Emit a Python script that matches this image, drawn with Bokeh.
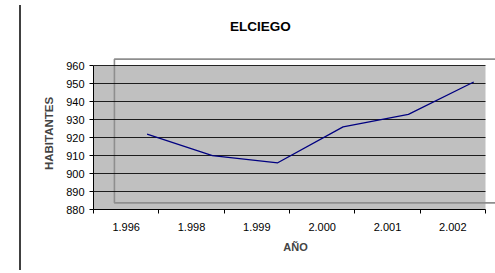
from bokeh.plotting import figure
from bokeh.models import Range1d, FixedTicker, SingleIntervalTicker, Div, Spacer
from bokeh.layouts import row, column
from bokeh.embed import file_html
from bokeh.resources import INLINE

# data
title = "ELCIEGO"
years = ["1.996", "1.998", "1.999", "2.000", "2.001", "2.002"]
habitantes = [922, 910, 906, 926, 933, 951]
y_min, y_max, y_step = 880, 960, 10

# 3-D depth offset of the back wall (category units, value units)
DX, DY = 0.32, 3.7

n = len(years)
centers = [i + 0.5 for i in range(n)]
xs_line = [c + DX for c in centers]

FONT = "Liberation Sans"
BORDER = "#404040"

TITLE_H = 34
p = figure(width=471, height=263 - TITLE_H, output_backend="svg", toolbar_location=None,
           x_range=Range1d(0, n * 404 / 392), y_range=Range1d(y_min, y_min + 152 / 1.796),
           min_border_left=67, min_border_right=0, min_border_top=13, min_border_bottom=64,
           background_fill_color="white", border_fill_color="white",
           outline_line_color=None)

# gray plot area
bg = p.quad(left=[0], right=[n], bottom=[y_min], top=[y_max],
            fill_color="#C0C0C0", line_color=None)
bg.level = "image"
# back wall outline
wall = p.quad(left=[DX], right=[n + 1], bottom=[y_min + DY], top=[y_max + DY],
              fill_color=None, line_color="#8E8E8E", line_width=1.6)
wall.level = "image"

# grid
p.xgrid.visible = False
p.ygrid.ticker = SingleIntervalTicker(interval=y_step)
p.ygrid.grid_line_color = "black"
p.ygrid.grid_line_width = 1
p.ygrid.grid_line_alpha = 0.85
p.ygrid.bounds = (y_min, y_max)
try:
    p.ygrid.cross_bounds = (0, n)
except Exception:
    pass

# data line
p.line(xs_line, habitantes, line_color="#000080", line_width=1.3)

# y axis
ya = p.yaxis[0]
ya.ticker = SingleIntervalTicker(interval=y_step)
ya.bounds = (y_min, y_max)
ya.axis_line_color = "black"
ya.major_tick_out = 4
ya.major_tick_in = 0
ya.minor_tick_line_color = None
ya.major_label_text_font = FONT
ya.major_label_text_font_size = "11px"
ya.major_label_text_color = "black"
ya.major_label_standoff = 5
ya.axis_label = "HABITANTES"
ya.axis_label_text_font = FONT
ya.axis_label_text_font_size = "11.5px"
ya.axis_label_text_font_style = "bold"
ya.axis_label_standoff = 8

# x axis
xa = p.xaxis[0]
xa.ticker = FixedTicker(ticks=centers, minor_ticks=list(range(n + 1)))
xa.major_label_overrides = {c: y for c, y in zip(centers, years)}
xa.bounds = (0, n)
xa.axis_line_color = "black"
xa.major_tick_line_color = None
xa.major_tick_out = 0
xa.major_tick_in = 0
xa.minor_tick_line_color = "black"
xa.minor_tick_out = 4
xa.minor_tick_in = 0
xa.major_label_text_font = FONT
xa.major_label_text_font_size = "11px"
xa.major_label_text_color = "black"
xa.major_label_standoff = 9
xa.axis_label = "AÑO"
xa.axis_label_text_font = FONT
xa.axis_label_text_font_size = "11px"
xa.axis_label_text_font_style = "bold"
xa.axis_label_standoff = 7

# chart title (as real text above the plot)
title_div = Div(
    text=(f'<div style="margin:0;padding:0;padding-left:199px;padding-top:10px;line-height:24px;'
          f'font-family:\'{FONT}\';font-size:13.5px;font-weight:bold;color:#000;'
          f'white-space:nowrap;">{title}</div>'),
    width=471, height=TITLE_H, styles={"background-color": "white"})

# outer chart-area border (left and bottom edges)
left_edge = Div(text="", width=2, height=265, styles={"background-color": BORDER})
bottom_edge = Div(text="", width=471, height=2, styles={"background-color": BORDER})
layout = row(Spacer(width=14, height=265), left_edge, column(title_div, p, bottom_edge))

open("out.html", "w").write(file_html(layout, INLINE))
